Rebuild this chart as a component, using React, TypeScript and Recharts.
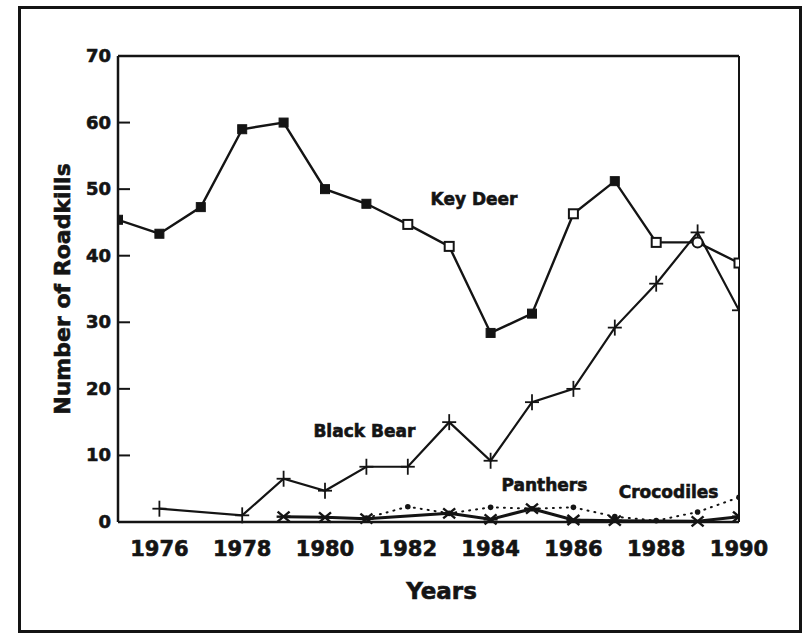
import { Line, LineChart, ReferenceDot, ReferenceLine, XAxis, YAxis } from 'recharts'

const years = [1975, 1976, 1977, 1978, 1979, 1980, 1981, 1982, 1983, 1984, 1985, 1986, 1987, 1988, 1989, 1990]
const keyDeer = [45.4, 43.3, 47.3, 59, 60, 50, 47.8, 44.7, 41.4, 28.4, 31.3, 46.3, 51.2, 42, 42, 38.9]
const blackBear = [null, 2, null, 1, 6.5, 4.7, 8.3, 8.3, 15, 9.2, 18, 20, 29.2, 35.8, 43.5, 31.8]
const panthers = [null, null, null, null, 0.8, 0.7, 0.5, null, 1.3, 0.4, 2, 0.3, 0.2, null, 0.1, 0.8]
const crocodiles = [null, null, null, null, null, null, 0.6, 2.3, 1.3, 2.2, 2, 2.2, 0.8, 0.2, 1.5, 3.7]

const xTicks = [1976, 1978, 1980, 1982, 1984, 1986, 1988, 1990]
const yTicks = [0, 10, 20, 30, 40, 50, 60, 70]

// the scan shows some key deer markers hollow
const deerHollowSquares = [1982, 1983, 1986, 1988, 1990]
const deerHollowCircles = [1989]

const seriesLabels = [
  { text: 'Key Deer', year: 1983.6, value: 48.5 },
  { text: 'Black Bear', year: 1980.95, value: 13.7 },
  { text: 'Panthers', year: 1985.3, value: 5.6 },
  { text: 'Crocodiles', year: 1988.3, value: 4.5 },
]

const data = years.map((year, i) => ({
  year,
  keyDeer: keyDeer[i],
  blackBear: blackBear[i],
  panthers: panthers[i],
  crocodiles: crocodiles[i],
}))

const INK = '#141414'
const FONT = '"DejaVu Sans", "Liberation Sans", Arial, sans-serif'
// a thin outline thickens the glyphs like the heavy scanned lettering
const heavy = { stroke: INK, strokeWidth: 0.6, paintOrder: 'stroke' as const }

function DeerDot(props: any) {
  const { cx, cy, payload } = props
  if (cx == null || cy == null || payload?.keyDeer == null) return <g />
  if (deerHollowCircles.includes(payload.year)) {
    return <circle cx={cx} cy={cy} r={5} fill="#fff" stroke={INK} strokeWidth={2} />
  }
  const hollow = deerHollowSquares.includes(payload.year)
  return (
    <rect
      x={cx - 4.5}
      y={cy - 4.5}
      width={9}
      height={9}
      fill={hollow ? '#fff' : INK}
      stroke={INK}
      strokeWidth={hollow ? 2 : 1}
    />
  )
}

function BearDot(props: any) {
  const { cx, cy, payload } = props
  if (cx == null || cy == null || payload?.blackBear == null) return <g />
  return (
    <g stroke={INK} strokeWidth={1.8}>
      <line x1={cx - 7} y1={cy} x2={cx + 7} y2={cy} />
      <line x1={cx} y1={cy - 8} x2={cx} y2={cy + 8} />
    </g>
  )
}

function PantherDot(props: any) {
  const { cx, cy, payload } = props
  if (cx == null || cy == null || payload?.panthers == null) return <g />
  return (
    <g stroke={INK} strokeWidth={2.4}>
      <line x1={cx - 6} y1={cy - 5} x2={cx + 6} y2={cy + 5} />
      <line x1={cx - 6} y1={cy + 5} x2={cx + 6} y2={cy - 5} />
      <line x1={cx - 7} y1={cy} x2={cx + 7} y2={cy} />
    </g>
  )
}

function CrocDot(props: any) {
  const { cx, cy, payload } = props
  if (cx == null || cy == null || payload?.crocodiles == null) return <g />
  return <circle cx={cx} cy={cy} r={2.8} fill={INK} />
}

function YTick(props: any) {
  const { x, y, payload } = props
  return (
    <g>
      <line x1={x + 7} y1={y} x2={x + 19} y2={y} stroke={INK} strokeWidth={2} />
      <text x={x} y={y} dy={6} textAnchor="end" fill={INK} fontSize={18} fontWeight={700} fontFamily={FONT} {...heavy}>
        {payload.value}
      </text>
    </g>
  )
}

export default function App() {
  return (
    <div style={{ position: 'fixed', left: 0, top: 0, width: 811, height: 640, background: '#fff' }}>
      <div
        style={{
          position: 'absolute',
          left: 18,
          top: 6,
          width: 784,
          height: 627,
          boxSizing: 'border-box',
          border: `3.5px solid ${INK}`,
        }}
      />
      <div style={{ position: 'absolute', left: 0, top: 0 }}>
        <LineChart width={811} height={640} data={data} margin={{ top: 56, right: 72, bottom: 58, left: 58 }}>
          <XAxis
            dataKey="year"
            type="number"
            domain={[1975, 1990]}
            ticks={xTicks}
            allowDataOverflow
            tickLine={false}
            tickSize={0}
            tickMargin={19}
            height={60}
            axisLine={{ stroke: INK, strokeWidth: 2.5 }}
            tick={{ fill: INK, fontSize: 21, fontWeight: 700, fontFamily: FONT, ...heavy }}
            label={{
              content: (p: any) => {
                const vb = p.viewBox
                return (
                  <text
                    x={vb.x + vb.width / 2 + 13}
                    y={vb.y + vb.height + 17}
                    textAnchor="middle"
                    fill={INK}
                    fontSize={23}
                    fontWeight={700}
                    fontFamily={FONT}
                    {...heavy}
                  >
                    Years
                  </text>
                )
              },
            }}
          />
          <YAxis
            type="number"
            domain={[0, 70]}
            ticks={yTicks}
            width={60}
            tickLine={false}
            tickSize={0}
            tickMargin={7}
            axisLine={{ stroke: INK, strokeWidth: 2.5 }}
            tick={<YTick />}
            label={{
              content: (p: any) => {
                const vb = p.viewBox
                const cx = vb.x + 4
                const cy = vb.y + vb.height / 2
                return (
                  <text
                    x={cx}
                    y={cy}
                    transform={`rotate(-90 ${cx} ${cy})`}
                    textAnchor="middle"
                    dominantBaseline="central"
                    fill={INK}
                    fontSize={22}
                    fontWeight={700}
                    fontFamily={FONT}
                    {...heavy}
                  >
                    Number of Roadkills
                  </text>
                )
              },
            }}
          />
          <ReferenceLine y={70} stroke={INK} strokeWidth={2.5} />
          <ReferenceLine x={1990} stroke={INK} strokeWidth={2} />

          <Line
            dataKey="crocodiles"
            stroke={INK}
            strokeWidth={2}
            strokeDasharray="1 6"
            strokeLinecap="round"
            dot={<CrocDot />}
            connectNulls
            isAnimationActive={false}
          />
          <Line
            dataKey="panthers"
            stroke={INK}
            strokeWidth={3}
            dot={<PantherDot />}
            connectNulls
            isAnimationActive={false}
          />
          <Line
            dataKey="blackBear"
            stroke={INK}
            strokeWidth={2.2}
            dot={<BearDot />}
            connectNulls
            isAnimationActive={false}
          />
          <Line dataKey="keyDeer" stroke={INK} strokeWidth={2.4} dot={<DeerDot />} isAnimationActive={false} />

          {seriesLabels.map((s) => (
            <ReferenceDot
              key={s.text}
              x={s.year}
              y={s.value}
              r={0}
              fill="none"
              stroke="none"
              label={{
                value: s.text,
                position: 'center',
                fill: INK,
                fontSize: 17,
                fontWeight: 700,
                fontFamily: FONT,
                ...heavy,
              }}
            />
          ))}
        </LineChart>
      </div>
    </div>
  )
}
